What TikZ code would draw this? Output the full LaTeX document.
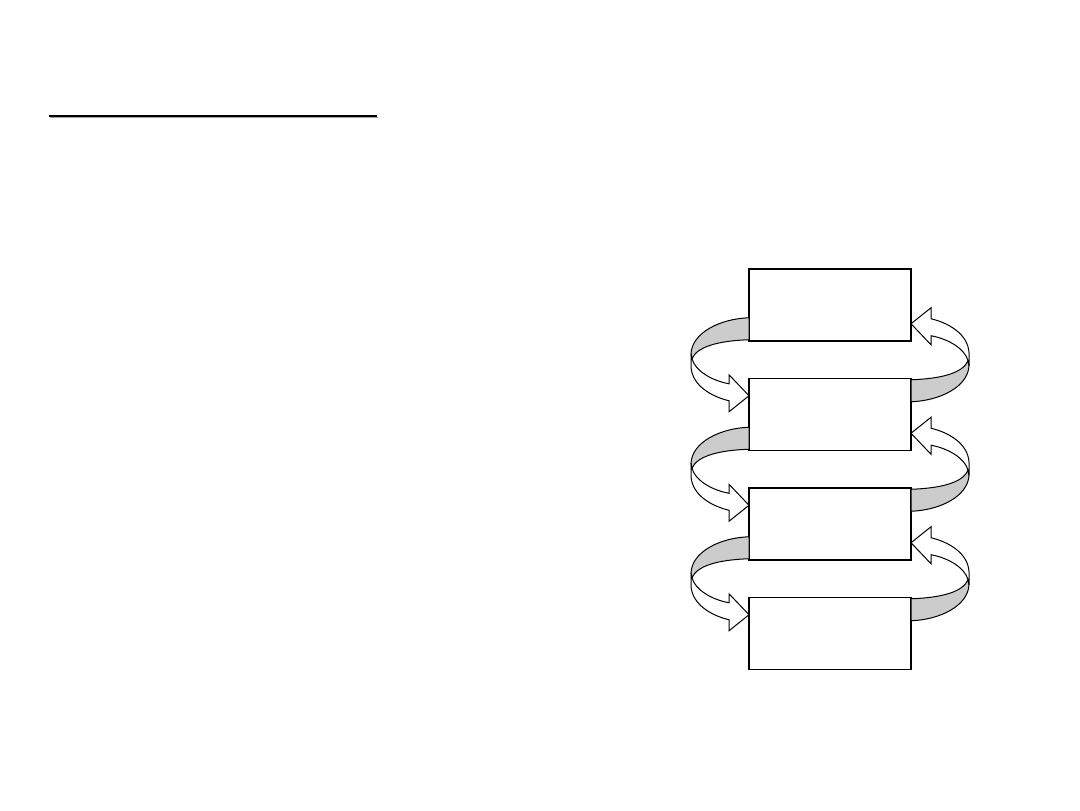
\documentclass[tikz,border=0pt]{standalone}
\usetikzlibrary{calc}
\definecolor{bandgray}{RGB}{204,204,204}
\definecolor{shadowgray}{RGB}{160,160,160}
\tikzset{
  box/.style={draw=black, line width=1pt, fill=white, minimum width=121.5pt, minimum height=54pt, inner sep=0pt},
  bandline/.style={draw=black, line width=0.75pt, line join=miter},
  loopband/.pic={
    \filldraw[bandline, fill=bandgray]
      (-81,-42) .. controls (-110,-41) and (-138,-27) .. (-139,-6)
      -- (-138,-1) .. controls (-133,-13) and (-112,-19) .. (-81,-20) -- cycle;
    \filldraw[bandline, fill=white]
      (-139,-6) -- (-139,7) .. controls (-138,26) and (-118,37) .. (-101,41)
      -- (-101,52) -- (-81,36) -- (-101,15) -- (-101,24)
      .. controls (-118,21) and (-135,11) .. (-138,-1) -- cycle;
  }
}
\begin{document}
\begin{tikzpicture}[x=0.75pt, y=-0.75pt]
\useasboundingbox (0,0) rectangle (1080,810);
% title underline
\coordinate (ul1) at (49,116);
\coordinate (ul2) at (377,116);
\draw[shadowgray, line width=1pt] ($(ul1)+(1,1.8)$) -- ($(ul2)+(1,1.8)$);
\draw[black, line width=1.6pt] (ul1) -- (ul2);
% boxes
\node[box] (b1) at (830,305) {};
\node[box] (b2) at (830,414.5) {};
\node[box] (b3) at (830,524) {};
\node[box] (b4) at (830,633.5) {};
% loop arrows
\foreach \a/\b in {b1/b2, b2/b3, b3/b4}{
  \coordinate (m) at ($(\a.south)!0.5!(\b.north)$);
  \pic at (m) {loopband};
  \pic[rotate=180] at (m) {loopband};
}
\end{tikzpicture}
\end{document}
